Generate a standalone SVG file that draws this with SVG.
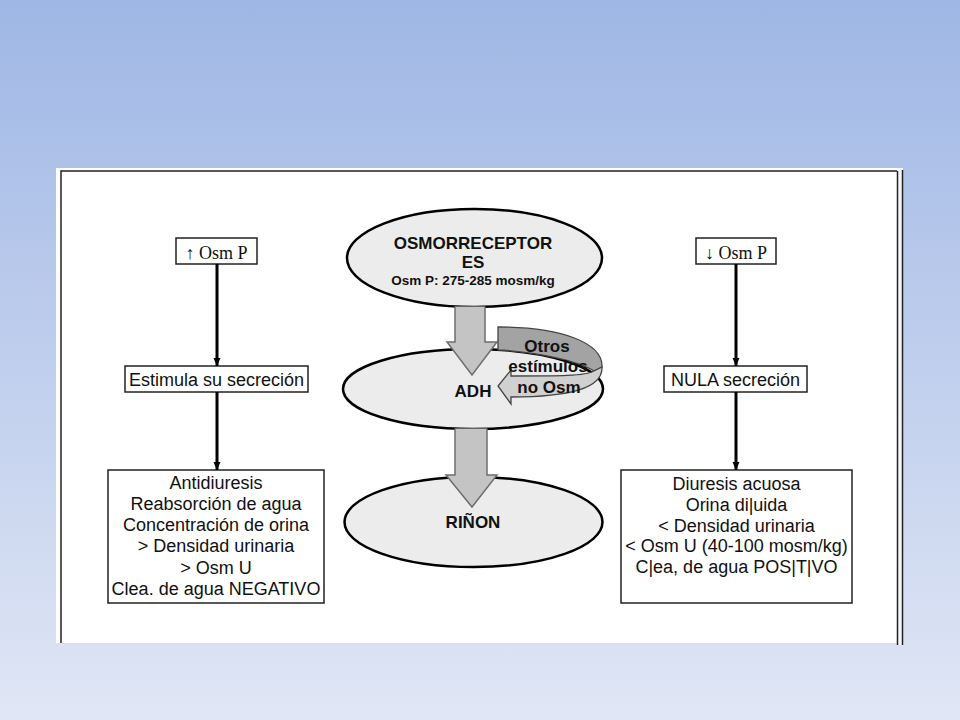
<svg xmlns="http://www.w3.org/2000/svg" width="960" height="720" viewBox="0 0 960 720">
<defs>
<linearGradient id="bg" x1="0" y1="0" x2="0" y2="1">
<stop offset="0" stop-color="#9fb7e5"/>
<stop offset="1" stop-color="#e0e6f5"/>
</linearGradient>
<marker id="ah" markerUnits="userSpaceOnUse" markerWidth="8" markerHeight="8" viewBox="0 0 8 8" refX="8" refY="4" orient="auto">
<path d="M0,0.5 L8,4 L0,7.5 Z" fill="#000"/>
</marker>
<style>
.box{fill:#fff;stroke:#222;stroke-width:1.5}
.ell{fill:#ececec;stroke:#000;stroke-width:2.5}
.t{font-family:"Liberation Sans",Arial,sans-serif;font-size:18px;fill:#111;text-anchor:middle}
.b{font-weight:bold;font-size:17px}
.sf{font-family:"Liberation Serif","Times New Roman","DejaVu Serif",serif;font-size:18px;fill:#111;text-anchor:middle}
.ln{stroke:#000;stroke-width:3;fill:none}
.blk{fill:#c4c4c4;stroke:#6e6e6e;stroke-width:1.5}
.frame{stroke:#222;stroke-width:1.5;fill:none}
</style>
</defs>
<rect x="0" y="0" width="960" height="720" fill="url(#bg)"/>
<g id="panel">
<rect x="56" y="168" width="841" height="475" fill="#fff"/>
<rect x="897" y="168" width="6" height="477" fill="#f4f6fb"/>
<path class="frame" d="M61,643 L61,171 L897,171"/>
<path class="frame" d="M897.5,171 L897.5,645"/>
<path class="frame" d="M902.5,170 L902.5,645"/>
</g>
<g id="n-osmp-up">
<rect class="box" x="176" y="238" width="81" height="26"/>
<text class="sf" x="216.5" y="259">↑ Osm P</text>
</g>
<g id="n-estimula">
<rect class="box" x="125" y="366" width="183" height="26"/>
<text class="t" x="216.5" y="386">Estimula su secreción</text>
</g>
<g id="n-antidiuresis">
<rect class="box" x="108" y="470" width="216" height="133"/>
<text class="t" x="216" y="489">Antidiuresis</text>
<text class="t" x="216" y="510">Reabsorción de agua</text>
<text class="t" x="216" y="531">Concentración de orina</text>
<text class="t" x="216" y="552">&gt; Densidad urinaria</text>
<text class="t" x="216" y="574">&gt; Osm U</text>
<text class="t" x="216" y="595">Clea. de agua NEGATIVO</text>
</g>
<g id="n-osmp-down">
<rect class="box" x="696" y="238" width="80" height="26"/>
<text class="sf" x="736" y="259">↓ Osm P</text>
</g>
<g id="n-nula">
<rect class="box" x="664" y="366" width="143" height="26"/>
<text class="t" x="735.5" y="386">NULA secreción</text>
</g>
<g id="n-diuresis">
<rect class="box" x="621" y="470" width="231" height="133"/>
<text class="t" x="736.5" y="490">Diuresis acuosa</text>
<text class="t" x="736.5" y="511">Orina di|uida</text>
<text class="t" x="736.5" y="532">&lt; Densidad urinaria</text>
<text class="t" x="736.5" y="552">&lt; Osm U (40-100 mosm/kg)</text>
<text class="t" x="736.5" y="573">C|ea, de agua POS|T|VO</text>
</g>
<g id="n-osmorreceptores">
<ellipse class="ell" cx="474.5" cy="258" rx="127.5" ry="49"/>
<text class="t b" x="473" y="249">OSMORRECEPTOR</text>
<text class="t b" x="473" y="268">ES</text>
<text class="t b" x="473" y="285" style="font-size:13.5px">Osm P: 275-285 mosm/kg</text>
</g>
<g id="n-adh">
<ellipse class="ell" cx="473" cy="389" rx="130" ry="40"/>
<text class="t b" x="473" y="397">ADH</text>
</g>
<g id="n-rinon">
<ellipse class="ell" cx="473.5" cy="522" rx="129" ry="45"/>
<text class="t b" x="473" y="528">RIÑON</text>
</g>
<g id="connectors">
<path class="ln" d="M217,264 L217,366" marker-end="url(#ah)"/>
<path class="ln" d="M217,392 L217,470" marker-end="url(#ah)"/>
<path class="ln" d="M736,264 L736,366" marker-end="url(#ah)"/>
<path class="ln" d="M736,392 L736,470" marker-end="url(#ah)"/>
<path class="blk" d="M455,306.5 L455,342 L447,342 L472,375 L497,342 L485,342 L485,306.5"/>
<path class="blk" d="M455,428.5 L455,475 L446,475 L472,507 L497,475 L487,475 L487,428.5"/>
<path d="M498,327 C562,327 603,343 602,367 L594,371 C580,362 540,352 498,350 Z" fill="#a3a3a3" stroke="#444" stroke-width="1.3"/>
<path d="M602,367 C603,388 570,397 511,397 L511,404 L498,386 L511,370 L511,376 C558,376 586,376 594,371 Z" fill="#d0d0d0" stroke="#444" stroke-width="1.3"/>
</g>
<g id="n-otros">
<text class="t b" x="547" y="352">Otros</text>
<text class="t b" x="548" y="372">estímulos</text>
<text class="t b" x="549" y="393">no Osm</text>
</g>
</svg>
